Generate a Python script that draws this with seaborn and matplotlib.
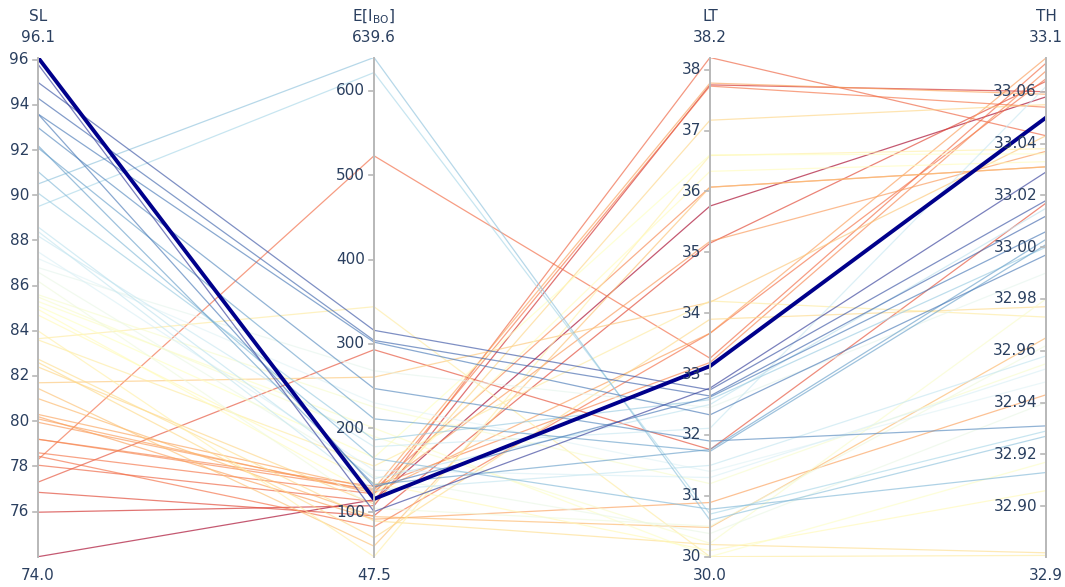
import numpy as np
import pandas as pd
import matplotlib
matplotlib.use("Agg")
import matplotlib.pyplot as plt
import matplotlib.transforms as mtransforms
import seaborn as sns

# ---- data -------------------------------------------------------------
dims = ["SL", "E[I$_\\mathrm{BO}$]", "LT", "TH"]
ranges = [(74.0, 96.1), (47.5, 639.6), (30.0, 38.2), (32.8805, 33.0732)]
range_labels = [("74.0", "96.1"), ("47.5", "639.6"), ("30.0", "38.2"), ("32.9", "33.1")]
ticks = [
    [76, 78, 80, 82, 84, 86, 88, 90, 92, 94, 96],
    [100, 200, 300, 400, 500, 600],
    [30, 31, 32, 33, 34, 35, 36, 37, 38],
    [32.90, 32.92, 32.94, 32.96, 32.98, 33.00, 33.02, 33.04, 33.06],
]
tick_labels = [
    [str(t) for t in ticks[0]],
    [str(t) for t in ticks[1]],
    [str(t) for t in ticks[2]],
    ["%.2f" % t for t in ticks[3]],
]

sl = [95.8, 95.0, 94.3, 93.6, 93.6, 93.0, 92.2, 92.1, 91.05, 90.5,
      90.1, 89.5, 88.6, 88.4, 88.2, 87.5, 87.2, 86.8, 86.6, 86.2,
      85.6, 85.5, 85.3, 85.1, 84.95, 84.7, 84.0, 83.65, 83.6, 82.75,
      82.6, 82.4, 81.7, 81.45, 81.0, 80.3, 80.2, 80.1, 79.95, 79.2,
      79.2, 78.6, 78.45, 78.3, 78.05, 77.3, 76.85, 75.97, 74.0]
e_ibo = [101, 316, 304, 130, 302, 247, 133, 211, 164, 639.6,
         186, 621.7, 140, 126, 178, 150, 230, 268, 143, 105,
         225, 190, 200, 165, 120, 135, 47.5, 344, 155, 90,
         70, 110, 260.5, 60, 95, 128, 92, 123, 125, 131,
         127, 122, 83, 523, 113, 293, 96, 108, 115]
lt = [32.77, 32.74, 32.64, 32.62, 32.33, 31.90, 31.76, 31.73, 30.78, 30.60,
      32.58, 30.70, 32.50, 31.50, 32.11, 31.30, 31.40, 32.45, 30.38, 30.50,
      31.20, 30.22, 30.00, 36.60, 36.33, 30.10, 36.59, 30.00, 34.20, 30.20,
      33.90, 37.17, 34.18, 36.07, 30.48, 37.78, 30.89, 33.67, 35.18, 33.19,
      36.07, 37.73, 33.67, 33.26, 38.20, 31.76, 35.15, 37.75, 35.76]
th = [33.029, 33.018, 33.012, 33.006, 32.997, 32.931, 33.003, 33.001, 32.913, 32.927,
      33.000, 32.929, 33.015, 32.958, 33.062, 32.953, 32.948, 32.990, 32.940, 32.962,
      32.955, 32.980, 32.917, 33.036, 33.033, 32.906, 33.038, 32.881, 32.973, 32.882,
      32.977, 33.055, 33.043, 33.031, 32.965, 33.059, 32.943, 33.073, 33.037, 33.068,
      33.031, 33.054, 33.065, 33.071, 33.043, 33.017, 33.064, 33.060, 33.058]

# highlighted design
best = [96.1, 116, 33.13, 33.050]

# ---- long-form table in normalised axis units --------------------------
def to_long(rows):
    recs = []
    for rid, row in enumerate(rows):
        for k, v in enumerate(row):
            lo, hi = ranges[k]
            recs.append({"row": rid, "pos": k, "norm": (v - lo) / (hi - lo), "SL": row[0]})
    return pd.DataFrame(recs)

df = to_long(list(zip(sl, e_ibo, lt, th)))
df_best = to_long([best])

# ---- figure -------------------------------------------------------------
W, H = 1065, 587
fig = plt.figure(figsize=(W / 100, H / 100), dpi=100)
x0, x1 = 38, 1046
y_top, y_bot = 57.5, 556.7
ax = fig.add_axes([x0 / W, 1 - y_bot / H, (x1 - x0) / W, (y_bot - y_top) / H])
ax.set_xlim(0, 3)
ax.set_ylim(0, 1)
ax.axis("off")

sns.lineplot(data=df, x="pos", y="norm", hue="SL", units="row", estimator=None,
             palette="RdYlBu", hue_norm=(74.0, 96.1), sort=False, legend=False,
             linewidth=0.9, alpha=0.65, ax=ax)
sns.lineplot(data=df_best, x="pos", y="norm", units="row", estimator=None,
             color="#00008b", sort=False, legend=False, linewidth=2.8, ax=ax)

txt_color = "#2a3f5f"
axis_color = "#b8b8b8"
fs = 11

for k in range(4):
    ax.plot([k, k], [0, 1], color=axis_color, lw=1.4, zorder=3, clip_on=False)
    lo, hi = ranges[k]
    tick_off = mtransforms.ScaledTranslation(-9 / 100, 0, fig.dpi_scale_trans)
    for t, lab in zip(ticks[k], tick_labels[k]):
        yv = (t - lo) / (hi - lo)
        ax.plot([k - 5 * 3 / (x1 - x0), k], [yv, yv], color=axis_color, lw=1.2,
                zorder=3, clip_on=False)
        ax.text(k, yv, lab, transform=ax.transData + tick_off, ha="right",
                va="center", fontsize=fs, color=txt_color, zorder=4)
    # titles and range labels
    ax.text(k, 1, dims[k],
            transform=ax.transData + mtransforms.ScaledTranslation(0, 41 / 100, fig.dpi_scale_trans),
            ha="center", va="center", fontsize=fs, color=txt_color)
    ax.text(k, 1, range_labels[k][1],
            transform=ax.transData + mtransforms.ScaledTranslation(0, 20 / 100, fig.dpi_scale_trans),
            ha="center", va="center", fontsize=fs, color=txt_color)
    ax.text(k, 0, range_labels[k][0],
            transform=ax.transData + mtransforms.ScaledTranslation(0, -19 / 100, fig.dpi_scale_trans),
            ha="center", va="center", fontsize=fs, color=txt_color)

fig.savefig("out.png", dpi=100)
